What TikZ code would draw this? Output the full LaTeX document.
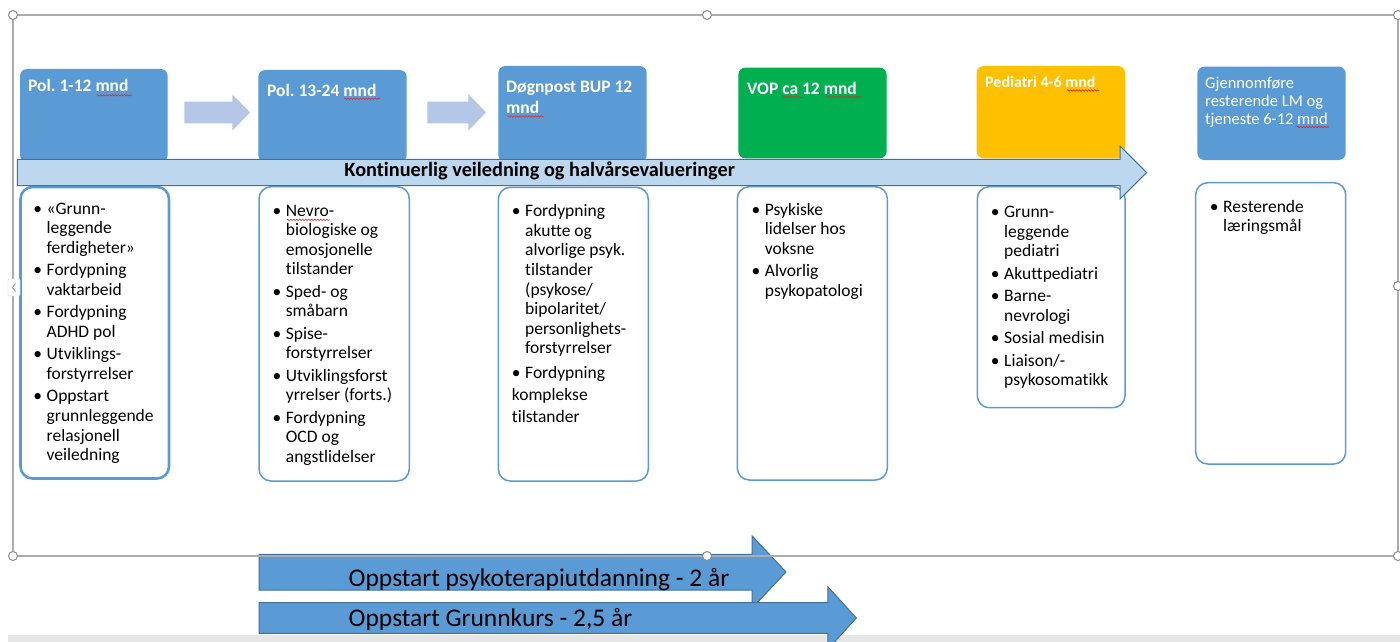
\documentclass[tikz,border=0pt]{standalone}
\usepackage{fontspec}
\setmainfont{Carlito}[Ligatures=NoCommon]
\frenchspacing
\usetikzlibrary{decorations.pathmorphing}
\definecolor{hblue}{HTML}{5B9BD5}
\definecolor{hgreen}{HTML}{00B050}
\definecolor{hyellow}{HTML}{FFC000}
\definecolor{sarrow}{HTML}{B4C7E7}
\definecolor{larrow}{HTML}{BDD7EE}
\definecolor{aborder}{HTML}{41719C}
\definecolor{framec}{HTML}{ADADAD}
\definecolor{stripc}{HTML}{E6E6E6}
\definecolor{squigc}{HTML}{E02828}
\newcommand\bul{\llap{\makebox[0pt]{\textbullet}\hspace{9pt}}}
\newcommand\nin{\hspace*{-13.3pt}}
\begin{document}
\begin{tikzpicture}[x=1pt,y=-1pt,
  hbox/.style={rectangle, rounded corners=7pt, inner sep=0pt, outer sep=0pt},
  cbox/.style={rectangle, draw=hblue, line width=1.5pt, fill=white, rounded corners=12pt, inner sep=0pt},
  htext/.style={text=white, font=\bfseries\fontsize{17.5}{21.3}\selectfont, anchor=base west, inner sep=0pt},
  btext/.style={font=\fontsize{17.5}{19.6}\selectfont, anchor=base west, inner sep=0pt},
  blockarrow/.style={fill=hblue, draw=aborder, line width=1pt},
  handle/.style={circle, draw=framec!80!black, fill=white, line width=1pt, minimum size=9pt, inner sep=0pt},
  squig/.style={draw=squigc, line width=0.6pt, decorate, decoration={snake, amplitude=0.7pt, segment length=3pt}}
]
\useasboundingbox (0,0) rectangle (1400,642);
\fill[white] (0,0) rectangle (1400,642);
% bottom strip
\fill[stripc] (8,635) rectangle (1400,642);

% header boxes
\node[hbox, fill=hblue, minimum width=147.7pt, minimum height=93pt] (h1) at (93.85,115.5) {};
\node[hbox, fill=hblue, minimum width=148.4pt, minimum height=92pt] (h2) at (332.5,116) {};
\node[hbox, fill=hblue, minimum width=148.4pt, minimum height=96pt] (h3) at (572.5,114) {};
\node[hbox, fill=hgreen, minimum width=148.4pt, minimum height=90.6pt] (h4) at (812.5,113) {};
\node[hbox, fill=hyellow, minimum width=148.3pt, minimum height=92.3pt] (h5) at (1050.85,112.15) {};
\node[hbox, fill=hblue, minimum width=148.4pt, minimum height=93.3pt] (h6) at (1271.5,113.35) {};

% content boxes
\node[cbox, line width=2.6pt, minimum width=148.5pt, minimum height=291.5pt] (c1) at (94.75,332.75) {};
\node[cbox, minimum width=150.3pt, minimum height=294.3pt] (c2) at (334.15,333.85) {};
\node[cbox, minimum width=150pt, minimum height=293.7pt] (c3) at (573.3,334.15) {};
\node[cbox, minimum width=150pt, minimum height=293.3pt] (c4) at (812.3,333.35) {};
\node[cbox, minimum width=147.7pt, minimum height=221pt] (c5) at (1051.15,297.2) {};
\node[cbox, minimum width=150pt, minimum height=281.3pt] (c6) at (1270.7,323.35) {};

% small arrows between the first headers
\fill[sarrow] (184.3,101.7) -- (232.3,101.7) -- (232.3,94.3) -- (250,112.5) -- (232.3,130.7) -- (232.3,123.3) -- (184.3,123.3) -- cycle;
\fill[sarrow] (427.3,101.7) -- (468.3,101.7) -- (468.3,94) -- (486,112.4) -- (468.3,130.7) -- (468.3,123.3) -- (427.3,123.3) -- cycle;

% long arrow
\draw[fill=larrow, draw=aborder, line width=1pt] (17.3,159.3) -- (1120,159.3) -- (1120,146) -- (1146.7,172.5) -- (1120,199) -- (1120,185.7) -- (17.3,185.7) -- cycle;
\node[font=\bfseries\fontsize{20.3}{24}\selectfont, anchor=base, inner sep=0pt] (kt) at (539.7,176.7) {Kontinuerlig veiledning og halvårsevalueringer};

% header texts
\node[htext] (ht1) at (28,92) {Pol. 1-12 mnd};
\node[htext] (ht2) at (267,96) {Pol. 13-24 mnd};
\node[htext] (ht3) at (506,92.7) {\begin{tabular}[t]{@{}l@{}}Døgnpost BUP 12\\mnd\end{tabular}};
\node[htext] (ht4) at (747,94.3) {VOP ca 12 mnd};
\node[htext, font=\bfseries\fontsize{16}{19}\selectfont] (ht5) at (985,87.7) {Pediatri 4-6 mnd};
\node[htext, font=\fontsize{16.5}{18}\selectfont] (ht6) at (1205,88.3) {\begin{tabular}[t]{@{}l@{}}Gjennomføre\\resterende LM og\\tjeneste 6-12 mnd\end{tabular}};

% body texts
\node[btext] (bt1) at (46.5,214.3) {\begin{tabular}[t]{@{}l@{}}
\bul«Grunn-\\ leggende\\ ferdigheter»\\[2.8pt]
\bul Fordypning\\ vaktarbeid\\[2.8pt]
\bul Fordypning\\ ADHD pol\\[2.8pt]
\bul Utviklings-\\ forstyrrelser\\[2.8pt]
\bul Oppstart\\ grunnleggende\\ relasjonell\\ veiledning
\end{tabular}};
\node[btext] (bt2) at (285.7,216) {\begin{tabular}[t]{@{}l@{}}
\bul Nevro-\\ biologiske og\\ emosjonelle\\ tilstander\\[2.8pt]
\bul Sped- og\\ småbarn\\[2.8pt]
\bul Spise-\\ forstyrrelser\\[2.8pt]
\bul Utviklingsforst\\ yrrelser (forts.)\\[2.8pt]
\bul Fordypning\\ OCD og\\ angstlidelser
\end{tabular}};
\node[btext] (bt3) at (525,216.7) {\begin{tabular}[t]{@{}l@{}}
\bul Fordypning\\ akutte og\\ alvorlige psyk.\\ tilstander\\ (psykose/\\ bipolaritet/\\ personlighets-\\ forstyrrelser\\[5.4pt]
\bul Fordypning\\[2pt]
\nin komplekse\\[2pt]
\nin tilstander
\end{tabular}};
\node[btext] (bt4) at (764.7,215) {\begin{tabular}[t]{@{}l@{}}
\bul Psykiske\\ lidelser hos\\ voksne\\[2.8pt]
\bul Alvorlig\\ psykopatologi
\end{tabular}};
\node[btext] (bt5) at (1004,217.7) {\begin{tabular}[t]{@{}l@{}}
\bul Grunn-\\ leggende\\ pediatri\\[2.8pt]
\bul Akuttpediatri\\[2.8pt]
\bul Barne-\\ nevrologi\\[2.8pt]
\bul Sosial medisin\\[2.8pt]
\bul Liaison/-\\ psykosomatikk
\end{tabular}};
\node[btext] (bt6) at (1223,212) {\begin{tabular}[t]{@{}l@{}}
\bul Resterende\\ læringsmål
\end{tabular}};

% bottom arrows
\draw[blockarrow] (259,554.3) -- (752.2,554.3) -- (752.2,536) -- (786,572) -- (752.2,608) -- (752.2,590) -- (259,590) -- cycle;
\draw[blockarrow] (259,602.7) -- (827.8,602.7) -- (827.8,586.7) -- (856.3,618) -- (827.8,649.3) -- (827.8,633.3) -- (259,633.3) -- cycle;
\node[font=\fontsize{25.5}{31}\selectfont, anchor=base west, inner sep=0pt] (at1) at (348.5,586) {Oppstart psykoterapiutdanning - 2 år};
\node[font=\fontsize{25.5}{31}\selectfont, anchor=base west, inner sep=0pt] (at2) at (348.5,626) {Oppstart Grunnkurs - 2,5 år};

% selection frame and handles
\draw[framec, line width=1.2pt] (13,15) rectangle (1398,556);
\node[handle] (hd1) at (13,15) {};
\node[handle] (hd2) at (707,15) {};
\node[handle] (hd3) at (1398,15) {};
\node[handle] (hd4) at (1398,286) {};
\node[handle] (hd5) at (13,556) {};
\node[handle] (hd6) at (707,556) {};
\node[handle] (hd7) at (1398,556) {};
\node[rectangle, draw=framec!60, fill=white, rounded corners=1pt, minimum width=12pt, minimum height=17pt, inner sep=0pt] (tab) at (14,287.5) {};
\draw[framec!90!black, line width=0.9pt] (15.5,283.5) -- (12.5,287.5) -- (15.5,291.5);

% spell-check squiggles
\draw[squig] (96.7,95.3) -- (132.3,95.3);
\draw[squig] (344.3,98.7) -- (380,98.7);
\draw[squig] (507.3,116.5) -- (543.3,116.5);
\draw[squig] (783.3,97) -- (801.7,97);
\draw[squig] (826,97) -- (861,97);
\draw[squig] (1066.7,90.5) -- (1099,90.5);
\draw[squig] (1296.7,127) -- (1329,127);
\draw[squig] (286.7,219.8) -- (330,219.8);
\end{tikzpicture}
\end{document}
